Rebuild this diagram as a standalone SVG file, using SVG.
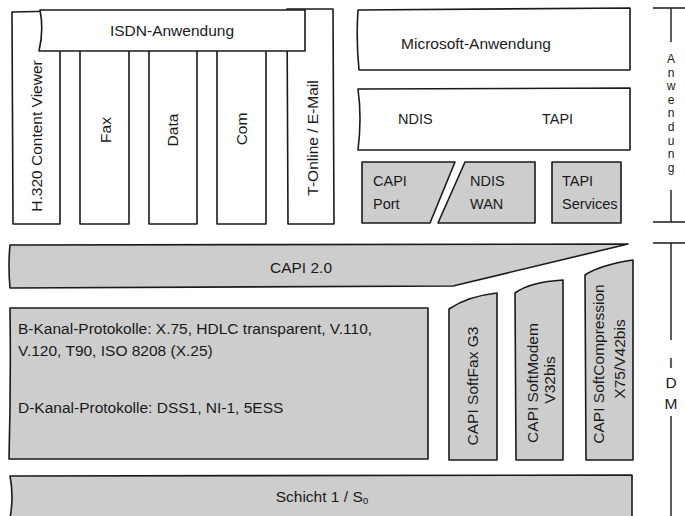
<svg xmlns="http://www.w3.org/2000/svg" width="685" height="516" viewBox="0 0 685 516">
<style>
.b{fill:#fff;stroke:#1a1a1a;stroke-width:1.6;stroke-linejoin:round}
.g{fill:#cdcdcd;stroke:#1a1a1a;stroke-width:1.6;stroke-linejoin:round}
.t{font-family:"Liberation Sans",Arial,sans-serif;font-size:15.5px;fill:#1a1a1a}
.s{font-size:14.5px}
.m{text-anchor:middle;dominant-baseline:central}
.ln{stroke:#1a1a1a;stroke-width:1.4;fill:none}
.l{font-family:"Liberation Sans",Arial,sans-serif;font-size:12px;fill:#1a1a1a;text-anchor:middle;dominant-baseline:central}
</style>
<rect width="685" height="516" fill="#fff"/>
<g id="h320"><path class="b" d="M12,12 L60,11 L60,224 L13,224 Z"/><text class="t m" transform="translate(36,136) rotate(-90)">H.320 Content Viewer</text></g>
<g id="fax"><rect class="b" x="80" y="40" width="49" height="184"/><text class="t m" transform="translate(105,130) rotate(-90)">Fax</text></g>
<g id="data"><rect class="b" x="149" y="40" width="48" height="184"/><text class="t m" transform="translate(172,130) rotate(-90)">Data</text></g>
<g id="com"><rect class="b" x="217" y="40" width="49" height="184"/><text class="t m" transform="translate(241,129) rotate(-90)">Com</text></g>
<g id="tonline"><path class="b" d="M287,9 L333,9 L334,224 L288,224 Z"/><text class="t m" transform="translate(312,138) rotate(-90)">T-Online / E-Mail</text></g>
<g id="isdn"><path class="b" d="M40,10 L305,10 L305,51 L39,51 Q44,30 40,10 Z"/><text class="t m" x="172" y="30">ISDN-Anwendung</text></g>
<g id="microsoft"><path class="b" d="M358,10 L630,8 L630,70 L359,70 Q356,40 358,10 Z"/><text class="t m" x="476" y="43">Microsoft-Anwendung</text></g>
<g id="ndistapi"><path class="b" d="M358,89 L630,88 L630,150 L358,150 Q362,118 358,89 Z"/><text class="t s" x="398" y="124">NDIS</text><text class="t s" x="542" y="124">TAPI</text></g>
<g id="capiport"><path class="g" d="M362,162 L455,162 L430,223 L362,223 Z"/><text class="t s" x="373" y="186">CAPI</text><text class="t s" x="373" y="209">Port</text></g>
<g id="ndiswan"><path class="g" d="M465,162 L535,162 L535,223 L438,223 Z"/><text class="t s" x="470" y="186">NDIS</text><text class="t s" x="470" y="209">WAN</text></g>
<g id="tapiservices"><rect class="g" x="552" y="162" width="69" height="61"/><text class="t s" x="562" y="186">TAPI</text><text class="t s" x="562" y="209">Services</text></g>
<g id="capi20"><path class="g" d="M10,245 L628,244 L453,286 L10,288 Q8,266 10,245 Z"/><text class="t m" x="301" y="267">CAPI 2.0</text></g>
<g id="protokolle"><path class="g" d="M10,308 L428,308 L428,459 L9,459 Q11,383 10,308 Z"/>
<text class="t" x="18" y="334">B-Kanal-Protokolle: X.75, HDLC transparent, V.110,</text>
<text class="t" x="18" y="356">V.120, T90, ISO 8208 (X.25)</text>
<text class="t" x="18" y="413">D-Kanal-Protokolle: DSS1, NI-1, 5ESS</text></g>
<g id="softfax"><path class="g" d="M449,309 Q468,296 497,293 L497,460 L449,460 Z"/><text class="t m" transform="translate(472,386) rotate(-90)">CAPI SoftFax G3</text></g>
<g id="softmodem"><path class="g" d="M515,293 Q530,282 563,280 L563,460 L516,460 Z"/><text class="t m" transform="translate(532,383) rotate(-90)">CAPI SoftModem</text><text class="t m" transform="translate(549,380) rotate(-90)">V32bis</text></g>
<g id="softcompression"><path class="g" d="M585,275 Q600,265 633,260 L633,460 L586,460 Z"/><text class="t m" transform="translate(598,364) rotate(-90)">CAPI SoftCompression</text><text class="t m" transform="translate(619,359) rotate(-90)">X75/V42bis</text></g>
<g id="schicht1"><path class="g" d="M10,476 L632,475 L632,518 L10,518 Q14,496 10,476 Z"/><text class="t m" x="322" y="496">Schicht 1 / S<tspan font-size="10" dy="4">o</tspan></text></g>
<g id="brackets">
<path class="ln" d="M653,8 H685 M671,8 V42 M671,190 V222 M653,222 H685"/>
<text class="l" x="671" y="59">A</text><text class="l" x="671" y="72.6">n</text><text class="l" x="671" y="86.2">w</text><text class="l" x="671" y="99.8">e</text><text class="l" x="671" y="113.4">n</text><text class="l" x="671" y="127">d</text><text class="l" x="671" y="140.6">u</text><text class="l" x="671" y="154.2">n</text><text class="l" x="671" y="167.8">g</text>
<path class="ln" d="M653,243 H685 M671,243 V340 M671,416 V516"/>
<text class="t m" x="671" y="362">I</text><text class="t m" x="671" y="382">D</text><text class="t m" x="671" y="403">M</text>
</g>
</svg>
